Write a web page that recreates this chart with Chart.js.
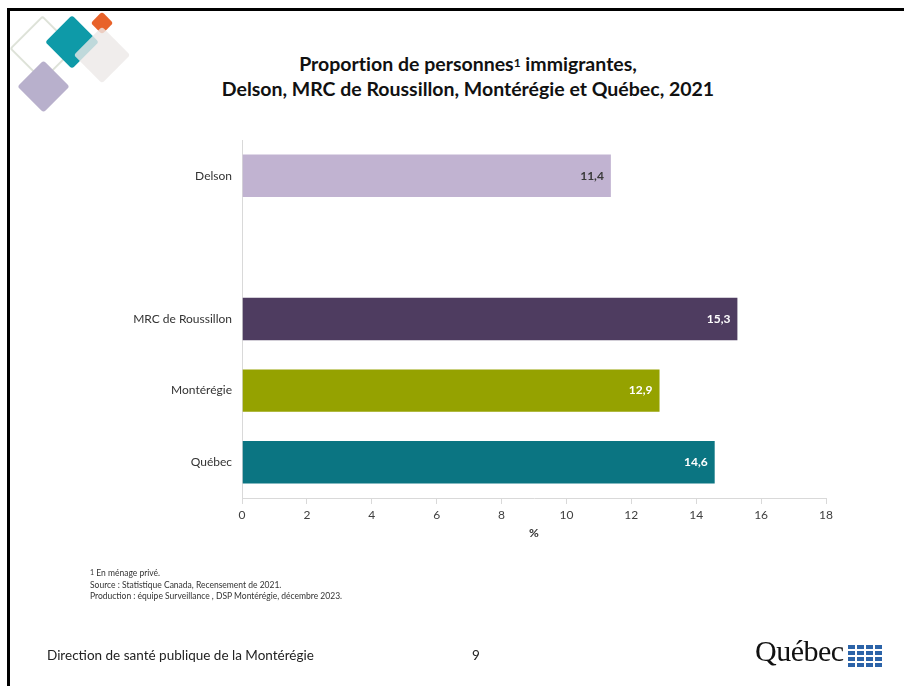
<!DOCTYPE html>
<html lang="fr">
<head>
<meta charset="utf-8">
<script src="https://cdn.jsdelivr.net/npm/chart.js@4"></script>
<style>
  html, body { margin:0; padding:0; background:#fff; }
  body { width:904px; height:686px; position:relative; overflow:hidden; font-family:Lato, 'Open Sans', sans-serif; }
  #frame { position:absolute; left:7px; top:8px; right:-10px; bottom:-10px; border-top:3px solid #000; border-left:3px solid #000; z-index:2; }
  #chart { position:absolute; left:0; top:0; }
  .dia { position:absolute; transform:rotate(45deg); border-radius:3px; }
  #title { position:absolute; left:0; width:936px; top:51px; text-align:center; font-weight:bold; font-size:19.5px; line-height:25px; color:#111; font-variant-ligatures:none; }
  #title sup { font-size:12px; vertical-align:top; position:relative; top:-1px; }
  #notes { position:absolute; left:90px; top:568px; font-size:8.5px; line-height:11.7px; color:#333; }
  #notes sup { font-size:7px; vertical-align:top; position:relative; top:-1px; }
  #footer { position:absolute; left:47px; top:647px; font-size:13.5px; color:#222; }
  #page { position:absolute; left:472px; top:647px; font-size:13.5px; color:#222; }
  #qc { position:absolute; left:755px; top:634px; font-family:'Liberation Serif', serif; font-size:30px; color:#111; letter-spacing:-0.5px; }
  .flag { position:absolute; width:16px; height:10px; background:#2b63a8; }
  .flag:before { content:''; position:absolute; left:7px; top:0; width:2px; height:10px; background:#fff; }
  .flag:after { content:''; position:absolute; left:0; top:4px; width:16px; height:2px; background:#fff; }
</style>
</head>
<body>
<div id="frame"></div>
<div class="dia" style="left:19px;top:25px;width:43px;height:43px;border:2px solid #dde2d8;"></div>
<div class="dia" style="left:53px;top:23px;width:38px;height:38px;background:#0e9aa8;"></div>
<div class="dia" style="left:94px;top:15px;width:16px;height:16px;background:#e8622a;"></div>
<div class="dia" style="left:82px;top:35px;width:40px;height:40px;background:rgba(236,233,231,0.8);"></div>
<div class="dia" style="left:25px;top:68px;width:37px;height:37px;background:#b8b0cc;"></div>
<div id="title">Proportion de personnes<sup>1</sup> immigrantes,<br>Delson, MRC de Roussillon, Montérégie et Québec, 2021</div>
<canvas id="chart" width="904" height="686"></canvas>
<div id="notes"><sup>1</sup> En ménage privé.<br>Source : Statistique Canada, Recensement de 2021.<br>Production : équipe Surveillance , DSP Montérégie, décembre 2023.</div>
<div id="footer">Direction de santé publique de la Montérégie</div>
<div id="page">9</div>
<div id="qc">Québec</div>
<div class="flag" style="left:848px;top:645px"></div>
<div class="flag" style="left:866px;top:645px"></div>
<div class="flag" style="left:848px;top:657px"></div>
<div class="flag" style="left:866px;top:657px"></div>
<script>
const categories = ['Delson', '', 'MRC de Roussillon', 'Montérégie', 'Québec']
const values = [11.4, null, 15.3, 12.9, 14.6]
const xTickMin = 0
const xTickMax = 18
const xTickStep = 2
const axisTitle = '%'

const barColors = ['#c1b3d1', '#ffffff', '#4e3c60', '#95a200', '#0b7582']
const valueColors = ['#3a3a3a', '#ffffff', '#ffffff', '#ffffff', '#ffffff']

const valueLabels = {
  id: 'valueLabels',
  afterDatasetsDraw(chart) {
    const ctx = chart.ctx
    const meta = chart.getDatasetMeta(0)
    ctx.save()
    ctx.font = 'bold 12px Lato'
    ctx.textAlign = 'right'
    ctx.textBaseline = 'middle'
    meta.data.forEach((bar, i) => {
      if(values[i]==null){return}
      ctx.fillStyle = valueColors[i]
      ctx.fillText(values[i].toFixed(1).replace('.', ','), bar.x - 8, bar.y)
    })
    ctx.restore()
  }
}

const context = document.getElementById('chart').getContext('2d')
new Chart(context, {
  type: 'bar',
  data: {
    labels: categories,
    datasets: [{
      data: values,
      backgroundColor: barColors,
      borderColor: 'rgba(255,255,255,0.35)',
      borderWidth: 1,
      barPercentage: 0.62,
      categoryPercentage: 1
    }]
  },
  options: {
    indexAxis: 'y',
    responsive: false,
    animation: false,
    layout: { padding: { top: 140, right: 78, bottom: 142, left: 0 } },
    plugins: { legend: { display: false }, tooltip: { enabled: false }, title: { display: false } },
    scales: {
      x: {
        min: xTickMin,
        max: xTickMax,
        ticks: { stepSize: xTickStep, color: '#404040', font: { family: 'Lato', size: 12 }, padding: 4 },
        grid: { drawOnChartArea: false, drawTicks: true, tickLength: 6, color: '#d9d9d9' },
        border: { color: '#d9d9d9' },
        title: { display: true, text: axisTitle, color: '#333', font: { family: 'Lato', size: 12, weight: 'bold' }, padding: { top: 0 } },
        afterFit(scale) { scale.height = 46 }
      },
      y: {
        ticks: { color: '#333', font: { family: 'Lato', size: 12 }, padding: 2 },
        grid: { display: false },
        border: { display: true, color: '#d9d9d9' },
        afterFit(scale) { scale.width = 242 }
      }
    }
  },
  plugins: [valueLabels]
})
</script>
</body>
</html>
